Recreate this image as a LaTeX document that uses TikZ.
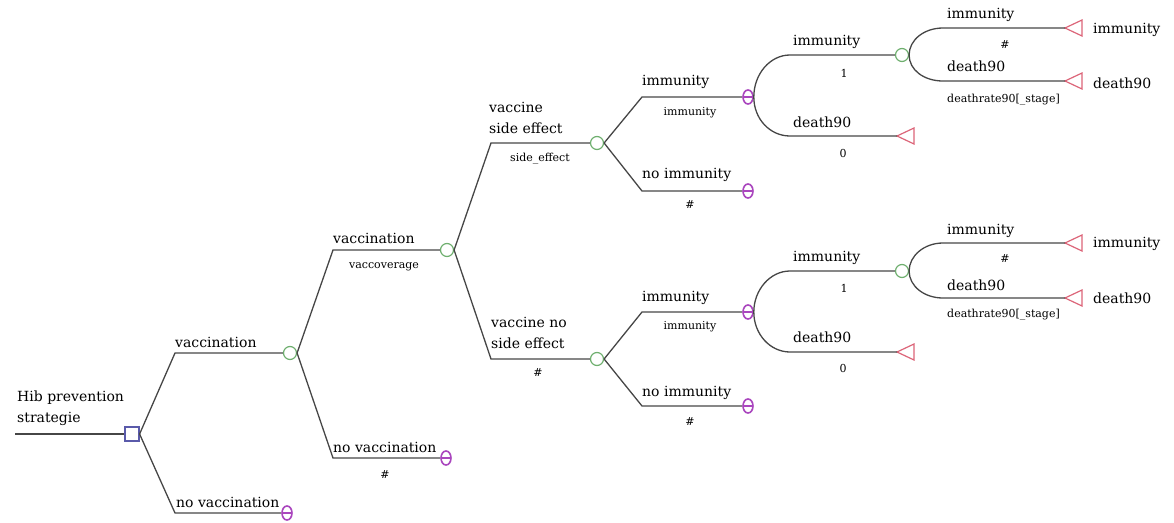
\documentclass[tikz,border=0pt]{standalone}
\usepackage{fontspec}
\setmainfont{DejaVu Serif}
\usetikzlibrary{shapes.geometric}
\definecolor{linegray}{RGB}{70,70,70}
\definecolor{decblue}{RGB}{90,90,170}
\definecolor{chgreen}{RGB}{110,175,110}
\definecolor{markpurple}{RGB}{170,70,190}
\definecolor{termred}{RGB}{220,100,120}
\begin{document}
\begin{tikzpicture}[x=1pt,y=-1pt,
  edge/.style={draw=linegray, line width=1.3pt},
  decnode/.style={rectangle, draw=decblue, line width=1.2pt, minimum size=14pt, inner sep=0pt},
  chancenode/.style={circle, draw=chgreen, line width=1.2pt, minimum size=13pt, inner sep=0pt},
  markovnode/.style={ellipse, draw=markpurple, line width=1.6pt, minimum width=10pt, minimum height=14pt, inner sep=0pt,
    path picture={\draw[markpurple, line width=1.2pt] (path picture bounding box.west) -- (path picture bounding box.east);}},
  termtri/.style={draw=termred, line width=1.2pt},
  lab/.style={anchor=west, inner sep=0pt, font=\fontsize{14}{21}\selectfont, align=left},
  sublab/.style={inner sep=0pt, font=\fontsize{11}{12}\selectfont}]
\useasboundingbox (0,0) rectangle (1174,522);

% ---- nodes ----
\coordinate (root) at (15,434);
\node[decnode] (dec) at (132,434) {};
\node[chancenode] (c1) at (290,353) {};
\node[markovnode] (m1) at (287,513) {};
\node[chancenode] (c2) at (447,250) {};
\node[markovnode] (m2) at (446,458) {};
\node[chancenode] (c3) at (597,143) {};
\node[chancenode] (c4) at (597,359) {};
\node[markovnode] (m3) at (748,97) {};
\node[markovnode] (m4) at (748,191) {};
\node[markovnode] (m5) at (748,312) {};
\node[markovnode] (m6) at (748,406) {};
\node[chancenode] (c5) at (902,55) {};
\node[chancenode] (c6) at (902,271) {};

% terminal tips
\coordinate (t1) at (897,136);
\coordinate (t2) at (1065,28);
\coordinate (t3) at (1065,81);
\coordinate (t4) at (897,352);
\coordinate (t5) at (1065,243);
\coordinate (t6) at (1065,298);
\foreach \t in {t1,t2,t3,t4,t5,t6}
  \draw[termtri] (\t) -- ++(17,-8) -- ++(0,16) -- cycle;

% kink points of the branches
\coordinate (k1) at (175,353);
\coordinate (k2) at (175,513);
\coordinate (k3) at (333,250);
\coordinate (k4) at (333,458);
\coordinate (k5) at (491,143);
\coordinate (k6) at (491,359);
\coordinate (k7) at (642,97);
\coordinate (k8) at (642,191);
\coordinate (k9) at (642,312);
\coordinate (k10) at (642,406);
\coordinate (a1) at (790,55);
\coordinate (a2) at (790,136);
\coordinate (a3) at (943,28);
\coordinate (a4) at (943,81);
\coordinate (a5) at (790,271);
\coordinate (a6) at (790,352);
\coordinate (a7) at (943,243);
\coordinate (a8) at (943,298);

% ---- straight branches ----
\draw[edge] (root) -- (dec);
\draw[edge] (dec.east) -- (k1) -- (c1);
\draw[edge] (dec.east) -- (k2) -- (m1);
\draw[edge] (c1.east) -- (k3) -- (c2);
\draw[edge] (c1.east) -- (k4) -- (m2);
\draw[edge] (c2.east) -- (k5) -- (c3);
\draw[edge] (c2.east) -- (k6) -- (c4);
\draw[edge] (c3.east) -- (k7) -- (m3);
\draw[edge] (c3.east) -- (k8) -- (m4);
\draw[edge] (c4.east) -- (k9) -- (m5);
\draw[edge] (c4.east) -- (k10) -- (m6);

% ---- curved branches ----
\draw[edge] (m3.east) .. controls +(0,-23) and +(-20,0) .. (a1) -- (c5);
\draw[edge] (m3.east) .. controls +(0,22) and +(-20,0) .. (a2) -- (t1);
\draw[edge] (c5.east) .. controls +(0,-15) and +(-19,0) .. (a3) -- (t2);
\draw[edge] (c5.east) .. controls +(0,15) and +(-19,0) .. (a4) -- (t3);
\draw[edge] (m5.east) .. controls +(0,-22) and +(-20,0) .. (a5) -- (c6);
\draw[edge] (m5.east) .. controls +(0,22) and +(-20,0) .. (a6) -- (t4);
\draw[edge] (c6.east) .. controls +(0,-15) and +(-19,0) .. (a7) -- (t5);
\draw[edge] (c6.east) .. controls +(0,15) and +(-19,0) .. (a8) -- (t6);

% ---- labels ----
\node[lab] (lroot) at (17,408) {Hib prevention\\strategie};
\node[lab] (l1) at (175,342) {vaccination};
\node[lab] (l2) at (176,502) {no vaccination};
\node[lab] (l3) at (333,238) {vaccination};
\node[sublab] (s3) at (384,267) {vaccoverage};
\node[lab] (l4) at (333,447) {no vaccination};
\node[sublab] (s4) at (385,475) {\#};
\node[lab] (l5) at (489,117.5) {vaccine\\side effect};
\node[sublab] (s5) at (540,159) {side\_effect};
\node[lab] (l6) at (491,332.5) {vaccine no\\side effect};
\node[sublab] (s6) at (538,373) {\#};
\node[lab] (l7) at (642,82) {immunity};
\node[sublab] (s7) at (690,113) {immunity};
\node[lab] (l8) at (642,175) {no immunity};
\node[sublab] (s8) at (690,205) {\#};
\node[lab] (l9) at (642,298) {immunity};
\node[sublab] (s9) at (690,327) {immunity};
\node[lab] (l10) at (642,393) {no immunity};
\node[sublab] (s10) at (690,422) {\#};
\node[lab] (l11) at (793,42) {immunity};
\node[sublab] (s11) at (844,73) {1};
\node[lab] (l12) at (793,122) {death90};
\node[sublab] (s12) at (843,153) {0};
\node[lab] (l13) at (947,15) {immunity};
\node[sublab] (s13) at (1005,45) {\#};
\node[lab] (l14) at (947,66) {death90};
\node[sublab, anchor=west] (s14) at (947,100) {deathrate90[\_stage]};
\node[lab] (r1) at (1093,30) {immunity};
\node[lab] (r2) at (1093,83) {death90};
\node[lab] (l15) at (793,258) {immunity};
\node[sublab] (s15) at (844,288) {1};
\node[lab] (l16) at (793,337) {death90};
\node[sublab] (s16) at (843,368) {0};
\node[lab] (l17) at (947,231) {immunity};
\node[sublab] (s17) at (1005,259) {\#};
\node[lab] (l18) at (947,285) {death90};
\node[sublab, anchor=west] (s18) at (947,315) {deathrate90[\_stage]};
\node[lab] (r3) at (1093,244) {immunity};
\node[lab] (r4) at (1093,298) {death90};
\end{tikzpicture}
\end{document}
